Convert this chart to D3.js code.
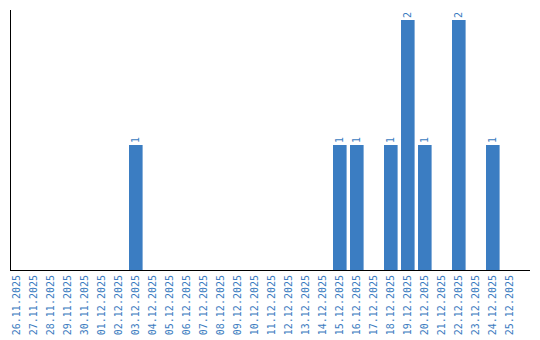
<!DOCTYPE html>
<html>
<head>
<meta charset="UTF-8">
<script src="https://d3js.org/d3.v7.min.js"></script>
<style>
  body { margin: 0; background: #fff; }
  svg { display: block; }
  text { font-family: "DejaVu Sans Mono", monospace; font-size: 10px; fill: #3a7bc0; }
</style>
</head>
<body>
<svg width="540" height="340"></svg>
<script>
const dates = ["26.11.2025","27.11.2025","28.11.2025","29.11.2025","30.11.2025","01.12.2025","02.12.2025","03.12.2025","04.12.2025","05.12.2025","06.12.2025","07.12.2025","08.12.2025","09.12.2025","10.12.2025","11.12.2025","12.12.2025","13.12.2025","14.12.2025","15.12.2025","16.12.2025","17.12.2025","18.12.2025","19.12.2025","20.12.2025","21.12.2025","22.12.2025","23.12.2025","24.12.2025","25.12.2025"];
const counts = [0,0,0,0,0,0,0,1,0,0,0,0,0,0,0,0,0,0,0,1,1,0,1,2,1,0,2,0,1,0];

const svg = d3.select("svg");
const plot = { left: 10, top: 10, bottom: 270, right: 530 };
const step = 17, padInner = 0.2;

const x = d3.scaleBand()
  .domain(dates)
  .range([plot.left, plot.left + step * (dates.length - padInner)])
  .paddingInner(padInner)
  .paddingOuter(0);

const y = d3.scaleLinear().domain([0, 2]).range([plot.bottom, 20]);

const rows = dates.map((d, i) => ({ d, v: counts[i] })).filter(o => o.v > 0);

// bars
svg.append("g").selectAll("rect")
  .data(rows)
  .enter().append("rect")
  .attr("x", o => x(o.d))
  .attr("y", o => y(o.v))
  .attr("width", x.bandwidth())
  .attr("height", o => plot.bottom - y(o.v))
  .attr("fill", "#3b7dc2");

// value labels
svg.append("g").selectAll("text")
  .data(rows)
  .enter().append("text")
  .attr("transform", o => `translate(${x(o.d) + x.bandwidth() / 2 + 3.5},${y(o.v) - 2}) rotate(-90)`)
  .text(o => o.v);

// axis lines
svg.append("line").attr("x1", plot.left + 0.5).attr("x2", plot.left + 0.5).attr("y1", plot.top).attr("y2", plot.bottom)
  .attr("stroke", "#000").attr("stroke-width", 1);
svg.append("line").attr("x1", plot.left).attr("x2", plot.right).attr("y1", plot.bottom + 0.5).attr("y2", plot.bottom + 0.5)
  .attr("stroke", "#000").attr("stroke-width", 1);

// date labels
svg.append("g").selectAll("text")
  .data(dates)
  .enter().append("text")
  .attr("text-anchor", "end")
  .attr("transform", d => `translate(${x(d) + x.bandwidth() / 2 + 3.5},${plot.bottom + 5}) rotate(-90)`)
  .text(d => d);
</script>
</body>
</html>
